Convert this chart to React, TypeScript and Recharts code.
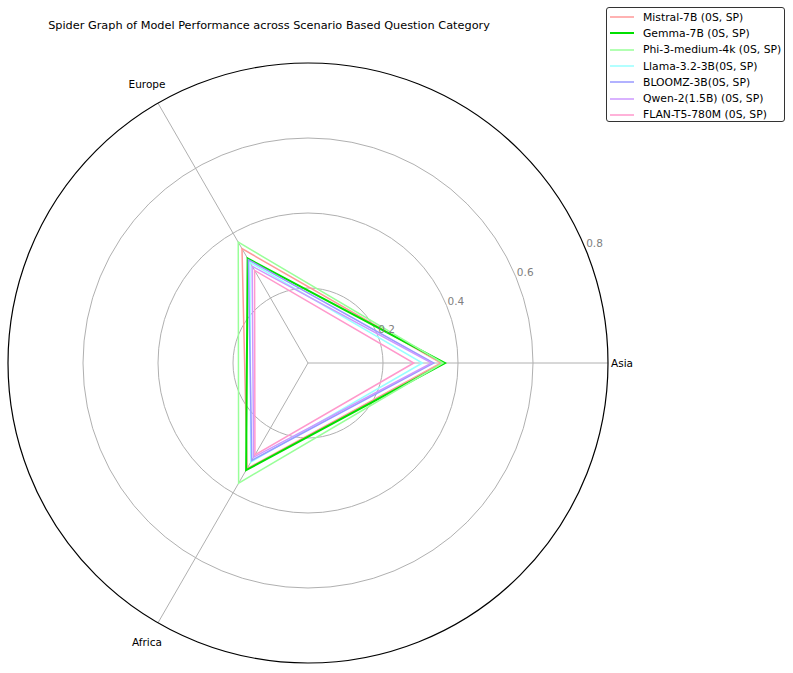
import { RadarChart, Radar, PolarGrid, PolarAngleAxis, PolarRadiusAxis, Legend } from "recharts";

// going clockwise from the right: Asia, Africa (lower left), Europe (upper left)
const REGIONS = ["Asia", "Africa", "Europe"];

const MODELS = [
  "Mistral-7B (0S, SP)",
  "Gemma-7B (0S, SP)",
  "Phi-3-medium-4k (0S, SP)",
  "Llama-3.2-3B(0S, SP)",
  "BLOOMZ-3B(0S, SP)",
  "Qwen-2(1.5B) (0S, SP)",
  "FLAN-T5-780M (0S, SP)",
];

const COLORS = ["#ff9999", "#00e000", "#99ff99", "#99ffff", "#9999ff", "#cc99ff", "#ff99cc"];

// values per region: Asia, Africa, Europe
const MISTRAL = [0.355, 0.325, 0.352];
const GEMMA = [0.365, 0.33, 0.322];
const PHI = [0.36, 0.37, 0.372];
const LLAMA = [0.305, 0.305, 0.31];
const BLOOMZ = [0.335, 0.3, 0.318];
const QWEN = [0.33, 0.29, 0.298];
const FLAN = [0.282, 0.283, 0.285];

const SERIES = [MISTRAL, GEMMA, PHI, LLAMA, BLOOMZ, QWEN, FLAN];

const RADIUS_TICKS = [0, 0.2, 0.4, 0.6, 0.8];

const CX = 308;
const CY = 363;
const OUTER = 300;

const data = REGIONS.map((region, i) => {
  const row: Record<string, string | number> = { region };
  MODELS.forEach((m, j) => {
    row[m] = SERIES[j][i];
  });
  return row;
});

const FONT = "'DejaVu Sans', sans-serif";

function AngleTick(props: any) {
  const { x, y, payload } = props;
  const a = Math.atan2(CY - y, x - CX);
  const right = Math.cos(a) > 0.5;
  const r = right ? OUTER + 3 : OUTER + 22;
  const tx = CX + r * Math.cos(a);
  const ty = CY - r * Math.sin(a);
  return (
    <text x={tx} y={ty} dy="0.35em" textAnchor={right ? "start" : "middle"} fontSize={10.5} fill="#000" fontFamily={FONT}>
      {payload.value}
    </text>
  );
}

function RadiusTick(props: any) {
  const { x, y, payload } = props;
  if (payload.value === 0) return <g />;
  return (
    <text x={x + 1} y={y - 1} textAnchor="start" fontSize={10.5} fill="#808080" fontFamily={FONT}>
      {Number(payload.value).toFixed(1)}
    </text>
  );
}

function LegendBox() {
  return (
    <div
      style={{
        width: 179,
        height: 115,
        border: "1px solid #333",
        borderRadius: 3,
        background: "#fff",
        boxSizing: "border-box",
        paddingTop: 1,
        fontFamily: FONT,
        fontSize: 10.8,
      }}
    >
      {MODELS.map((m, i) => (
        <div key={m} style={{ display: "flex", alignItems: "center", height: 16.3 }}>
          <svg width={34} height={6} style={{ marginLeft: 2, flex: "none" }}>
            <line x1={1} x2={25} y1={3} y2={3} stroke={COLORS[i]} strokeWidth={i === 1 ? 2 : 1.5} />
          </svg>
          <span style={{ whiteSpace: "nowrap", color: "#000" }}>{m}</span>
        </div>
      ))}
    </div>
  );
}

export default function App() {
  return (
    <div style={{ position: "absolute", left: 0, top: 0, width: 793, height: 673, background: "#fff" }}>
      <div
        style={{
          position: "absolute",
          left: 0,
          top: 19,
          width: 538,
          textAlign: "center",
          fontFamily: FONT,
          fontSize: 11.3,
          color: "#000",
        }}
      >
        Spider Graph of Model Performance across Scenario Based Question Category
      </div>
      <RadarChart
        width={793}
        height={673}
        data={data}
        cx={CX}
        cy={CY}
        outerRadius={OUTER}
        startAngle={0}
        endAngle={-360}
        margin={{ top: 0, right: 0, bottom: 0, left: 0 }}
      >
        <PolarGrid gridType="circle" polarRadius={[75, 150, 225]} stroke="#b0b0b0" strokeWidth={1} />
        <PolarAngleAxis
          dataKey="region"
          tick={AngleTick}
          tickLine={false}
          axisLineType="circle"
          axisLine={{ stroke: "#000", strokeWidth: 1.2 }}
        />
        <PolarRadiusAxis
          type="number"
          angle={22.5}
          domain={[0, 0.8]}
          ticks={RADIUS_TICKS as any}
          tickCount={5}
          allowDecimals
          axisLine={false}
          tickLine={false}
          tick={RadiusTick}
        />
        {MODELS.map((m, i) => (
          <Radar
            key={m}
            name={m}
            dataKey={m}
            stroke={COLORS[i]}
            strokeWidth={i === 1 ? 2 : 1.5}
            fill="none"
            fillOpacity={0}
            dot={false}
            isAnimationActive={false}
          />
        ))}
        <Legend
          content={() => <LegendBox />}
          wrapperStyle={{ position: "absolute", left: 606, top: 7, width: 179, height: 115 }}
        />
      </RadarChart>
    </div>
  );
}
